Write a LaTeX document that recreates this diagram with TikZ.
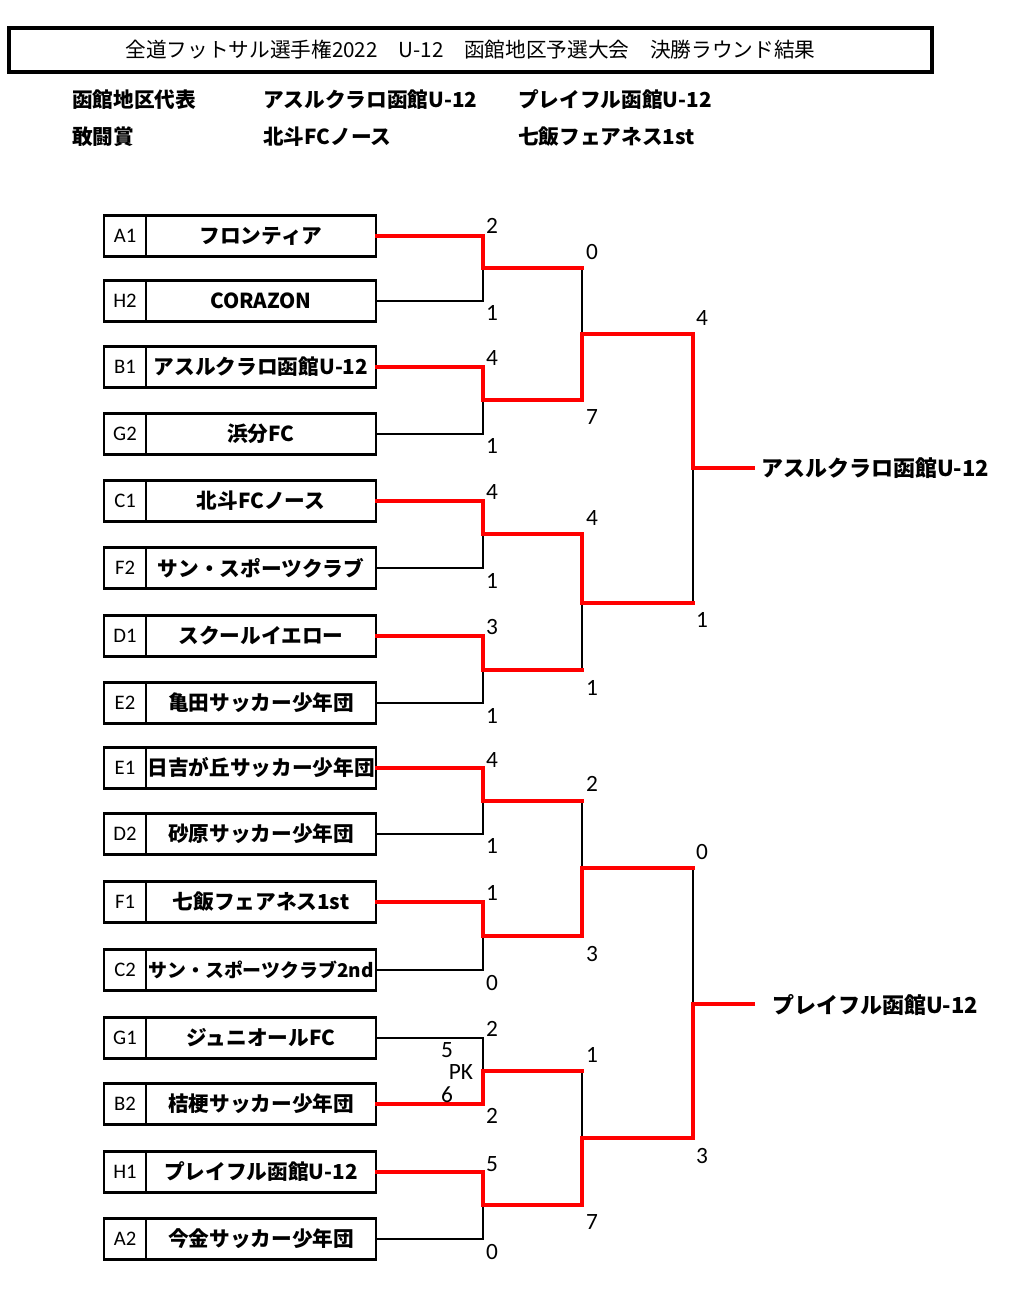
\documentclass[tikz,border=0pt]{standalone}
\usepackage{fontspec}
\setmainfont{Carlito}
\newfontfamily\jp{Noto Sans CJK JP}
\begin{document}
\begin{tikzpicture}[x=0.75pt, y=-0.75pt, line cap=rect,
    codebox/.style={draw, line width=2pt, minimum width=31.5pt, minimum height=31pt, inner sep=0pt, font=\fontsize{15.5}{17}\selectfont},
    namebox/.style={draw, line width=2pt, minimum width=172.5pt, minimum height=31pt, inner sep=0pt, font=\jp\bfseries\fontsize{15.5}{18}\selectfont},
    win/.style={color=red, line width=3pt},
    lose/.style={color=black, line width=1.5pt},
    score/.style={inner sep=0pt, font=\fontsize{17.5}{19}\selectfont},
    head/.style={anchor=west, inner sep=0pt, font=\jp\bfseries\fontsize{15.5}{18}\selectfont},
    champ/.style={inner sep=0pt, font=\jp\bfseries\fontsize{16.5}{19}\selectfont}]
    \useasboundingbox (0,0) rectangle (1029,1295);

    \node[draw, line width=3pt, minimum width=692pt, minimum height=33pt, inner sep=0pt, font=\jp\fontsize{15.5}{18}\selectfont] (title) at (470.5,50) {全道フットサル選手権2022　U-12　函館地区予選大会　決勝ラウンド結果};

    \node[head] (rep) at (72,100) {函館地区代表};
    \node[head] (rep1) at (263,100) {アスルクラロ函館U-12};
    \node[head] (rep2) at (518,100) {プレイフル函館U-12};
    \node[head] (prize) at (72,137) {敢闘賞};
    \node[head] (prize1) at (263,137) {北斗FCノース};
    \node[head] (prize2) at (518,137) {七飯フェアネス1st};

    % teams
    \node[namebox] (nA1) at (261,236) {フロンティア};
    \node[namebox] (nH2) at (261,301) {CORAZON};
    \node[namebox] (nB1) at (261,367) {アスルクラロ函館U-12};
    \node[namebox] (nG2) at (261,434) {浜分FC};
    \node[namebox] (nC1) at (261,501) {北斗FCノース};
    \node[namebox] (nF2) at (261,568) {サン・スポーツクラブ};
    \node[namebox] (nD1) at (261,636) {スクールイエロー};
    \node[namebox] (nE2) at (261,703) {亀田サッカー少年団};
    \node[namebox] (nE1) at (261,768) {日吉が丘サッカー少年団};
    \node[namebox] (nD2) at (261,834) {砂原サッカー少年団};
    \node[namebox] (nF1) at (261,902) {七飯フェアネス1st};
    \node[namebox, font=\jp\bfseries\fontsize{14.2}{17}\selectfont] (nC2) at (261,970) {サン・スポーツクラブ2nd};
    \node[namebox] (nG1) at (261,1038) {ジュニオールFC};
    \node[namebox] (nB2) at (261,1104) {桔梗サッカー少年団};
    \node[namebox] (nH1) at (261,1172) {プレイフル函館U-12};
    \node[namebox] (nA2) at (261,1239) {今金サッカー少年団};

    \node[codebox] (tA1) at (125,236) {A1};
    \node[codebox] (tH2) at (125,301) {H2};
    \node[codebox] (tB1) at (125,367) {B1};
    \node[codebox] (tG2) at (125,434) {G2};
    \node[codebox] (tC1) at (125,501) {C1};
    \node[codebox] (tF2) at (125,568) {F2};
    \node[codebox] (tD1) at (125,636) {D1};
    \node[codebox] (tE2) at (125,703) {E2};
    \node[codebox] (tE1) at (125,768) {E1};
    \node[codebox] (tD2) at (125,834) {D2};
    \node[codebox] (tF1) at (125,902) {F1};
    \node[codebox] (tC2) at (125,970) {C2};
    \node[codebox] (tG1) at (125,1038) {G1};
    \node[codebox] (tB2) at (125,1104) {B2};
    \node[codebox] (tH1) at (125,1172) {H1};
    \node[codebox] (tA2) at (125,1239) {A2};

    % junctions
    \coordinate (j1) at (483,268);
    \coordinate (j2) at (483,400);
    \coordinate (j3) at (483,534);
    \coordinate (j4) at (483,670);
    \coordinate (j5) at (483,801);
    \coordinate (j6) at (483,936);
    \coordinate (j7) at (483,1071);
    \coordinate (j8) at (483,1205);
    \coordinate (q1) at (582,334);
    \coordinate (q2) at (582,603);
    \coordinate (q3) at (582,868);
    \coordinate (q4) at (582,1138);
    \coordinate (s1) at (693,468);
    \coordinate (s2) at (693,1004);
    \coordinate (e1) at (753,468);
    \coordinate (e2) at (753,1004);

    % losing lines
    \draw[lose] (nH2.east) -| (j1);
    \draw[lose] (nG2.east) -| (j2);
    \draw[lose] (nF2.east) -| (j3);
    \draw[lose] (nE2.east) -| (j4);
    \draw[lose] (nD2.east) -| (j5);
    \draw[lose] (nC2.east) -| (j6);
    \draw[lose] (nG1.east) -| (j7);
    \draw[lose] (nA2.east) -| (j8);
    \draw[lose] (j1 -| q1) -- (q1);
    \draw[lose] (j4 -| q2) -- (q2);
    \draw[lose] (j5 -| q3) -- (q3);
    \draw[lose] (j7 -| q4) -- (q4);
    \draw[lose] (q2 -| s1) -- (s1);
    \draw[lose] (q3 -| s2) -- (s2);

    % winning lines
    \draw[win] (nA1.east) -| (j1) -- (j1 -| q1);
    \draw[win] (nB1.east) -| (j2) -| (q1) -| (s1) -- (e1);
    \draw[win] (nC1.east) -| (j3) -| (q2) -- (q2 -| s1);
    \draw[win] (nD1.east) -| (j4) -- (j4 -| q2);
    \draw[win] (nE1.east) -| (j5) -- (j5 -| q3);
    \draw[win] (nF1.east) -| (j6) -| (q3) -- (q3 -| s2);
    \draw[win] (nB2.east) -| (j7) -- (j7 -| q4);
    \draw[win] (nH1.east) -| (j8) -| (q4) -| (s2) -- (e2);

    % scores
    \node[score] (sA1) at (492,226) {2};
    \node[score] (sH2) at (492,313) {1};
    \node[score] (sB1) at (492,358) {4};
    \node[score] (sG2) at (492,446) {1};
    \node[score] (sC1) at (492,492) {4};
    \node[score] (sF2) at (492,581) {1};
    \node[score] (sD1) at (492,627) {3};
    \node[score] (sE2) at (492,716) {1};
    \node[score] (sE1) at (492,760) {4};
    \node[score] (sD2) at (492,846) {1};
    \node[score] (sF1) at (492,893) {1};
    \node[score] (sC2) at (492,983) {0};
    \node[score] (sG1) at (492,1029) {2};
    \node[score] (sB2) at (492,1116) {2};
    \node[score] (sH1) at (492,1164) {5};
    \node[score] (sA2) at (492,1252) {0};

    \node[score] (pk1) at (447,1050) {5};
    \node[score] (pk) at (461,1072) {PK};
    \node[score] (pk2) at (447,1095) {6};

    \node[score] (s2a) at (592,252) {0};
    \node[score] (s2b) at (592,417) {7};
    \node[score] (s2c) at (592,518) {4};
    \node[score] (s2d) at (592,688) {1};
    \node[score] (s2e) at (592,784) {2};
    \node[score] (s2f) at (592,954) {3};
    \node[score] (s2g) at (592,1055) {1};
    \node[score] (s2h) at (592,1222) {7};

    \node[score] (s3a) at (702,318) {4};
    \node[score] (s3b) at (702,620) {1};
    \node[score] (s3c) at (702,852) {0};
    \node[score] (s3d) at (702,1156) {3};

    % winners
    \node[champ] (w1) at (875,468) {アスルクラロ函館U-12};
    \node[champ] (w2) at (875,1005) {プレイフル函館U-12};
\end{tikzpicture}
\end{document}
